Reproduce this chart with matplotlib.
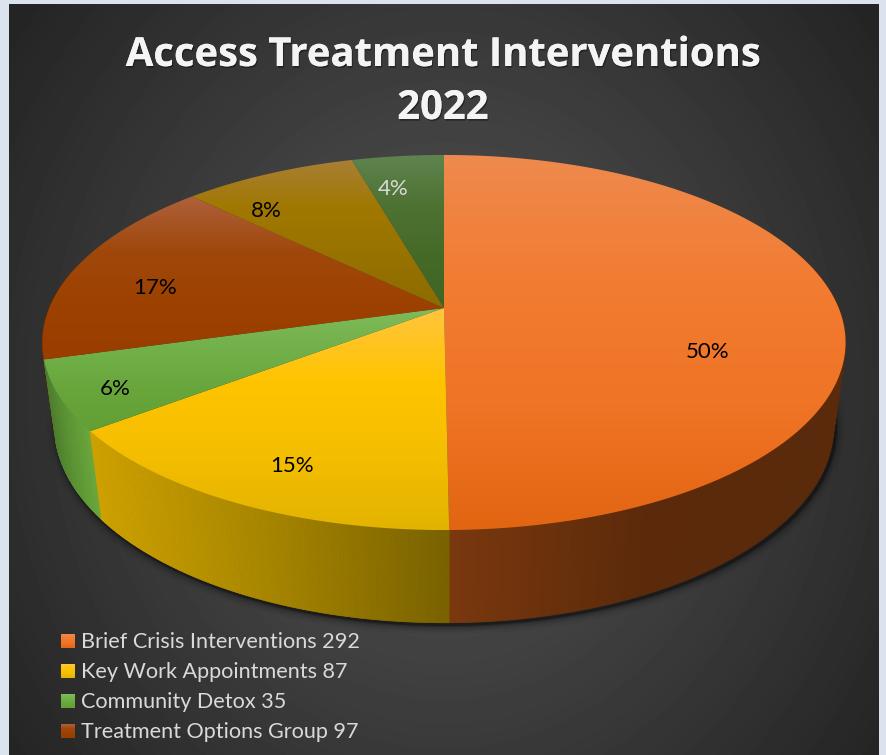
import numpy as np
import matplotlib
matplotlib.use("Agg")
import matplotlib.pyplot as plt
import matplotlib.patheffects as pe
from matplotlib.colors import LinearSegmentedColormap, to_rgb
from matplotlib.patches import Polygon

plt.rcParams["font.family"] = ["Lato", "DejaVu Sans"]

# ─── Data ──────────────────────────────────────────────────────────────────────

title_lines = ["Access Treatment Interventions", "2022"]
values = [292, 87, 35, 97, 49, 26]
legend_names = ["Brief Crisis Interventions", "Key Work Appointments",
                "Community Detox", "Treatment Options Group"]

# ─── Style ─────────────────────────────────────────────────────────────────────

W, H = 886, 755
CX, CY = 444, 308          # pie centre on the canvas
RX, RY = 394.7, 181.2      # radii of the top disc
TILT = 0.184               # perspective strength
DEPTH, SHRINK = 85, 0.03   # offset of the lower disc

face_stops = [
    ["#EE8A4E", "#F27C32", "#EF7425", "#E26512"],
    ["#FFC53E", "#FFC400", "#F4BE00", "#E2B300"],
    ["#80BC5A", "#72B04A", "#68A63C", "#62A036"],
    ["#AE613C", "#A0480C", "#9C4100", "#993E00"],
    ["#A97F36", "#A07800", "#987200", "#8C6B00"],
    ["#5F8450", "#4E7232", "#456A28", "#3F6524"],
]
# wall colour across each slice, left end, middle, right end
wall_stops = [
    ("#7A380E", "#5C2A0A", "#5A2A0B"),
    ("#CFA200", "#A68500", "#7A6200"),
    ("#4B7C2C", "#5C9535", "#6BA83C"),
    ("#6E2E00", "#6E2E00", "#6E2E00"),
    ("#6E5200", "#6E5200", "#6E5200"),
    ("#2E4A1A", "#2E4A1A", "#2E4A1A"),
]
label_xy = [(708, 352), (292, 466), (115, 389), (155, 288), (266, 211), (393, 189)]
label_colors = ["black", "black", "black", "black", "black", "#D9D9D9"]


def top_point(theta):
    u, v = np.sin(theta), np.cos(theta)
    d = 1 + TILT * v
    return CX + RX * u / d, CY - RY * v / d


def bottom_point(theta):
    u, v = np.sin(theta), np.cos(theta)
    d = 1 + TILT * v + SHRINK
    return CX + RX * u / d, CY + (-RY * v + DEPTH) / d


def gradient_fill(ax, poly_xy, stops, zorder):
    """Fill a polygon with a top to bottom gradient."""
    xs, ys = poly_xy[:, 0], poly_xy[:, 1]
    cmap = LinearSegmentedColormap.from_list("g", stops)
    grad = np.linspace(0, 1, 256).reshape(-1, 1)
    im = ax.imshow(grad, cmap=cmap, aspect="auto", interpolation="bilinear",
                   extent=(xs.min(), xs.max(), ys.max(), ys.min()), zorder=zorder)
    clip = Polygon(poly_xy, closed=True, transform=ax.transData, fc="none", ec="none")
    ax.add_patch(clip)
    im.set_clip_path(clip)


fig = plt.figure(figsize=(W / 100, H / 100), dpi=100, facecolor="#DAE3EE")
ax = fig.add_axes([0, 0, 1, 1])
ax.axis("off")

# Panel background
px, py = np.meshgrid(np.arange(9, 879), np.arange(4, 755))
r = np.sqrt(((px - 444) / 435) ** 2 + ((py - 390) / 500) ** 2) / 1.25
grey = (87 - 51 * np.clip(r, 0, 1)) / 255
ax.imshow(grey, cmap="gray", vmin=0, vmax=1, extent=(9, 879, 755, 4),
          aspect="auto", interpolation="bilinear", zorder=0)

# Slice angles, clockwise from twelve o'clock
total = sum(values)
edges = 2 * np.pi * np.concatenate([[0], np.cumsum(values)]) / total

# Soft shadow under the lower rim
ring = np.linspace(np.pi * 0.42, np.pi * 1.6, 240)
rim = np.array([bottom_point(t) for t in ring])
for lw, alpha in [(14, 0.05), (10, 0.08), (7, 0.12), (4, 0.25), (2, 0.45)]:
    ax.plot(rim[:, 0] + 2, rim[:, 1] + 2, color="#0C0C0C", lw=lw, alpha=alpha,
            solid_capstyle="round", zorder=1)

# Side walls as thin strips, collected so the farthest are painted first
strips = []
for i in range(len(values)):
    steps = max(int((edges[i + 1] - edges[i]) / np.radians(0.4)), 2)
    th = np.linspace(edges[i], edges[i + 1], steps + 1)
    mid = (th[:-1] + th[1:]) / 2
    front = np.cos(mid) < 0.25
    if not front.any():
        continue
    xs = np.array([top_point(t)[0] for t in th[:-1]])
    x_lo, x_hi = xs[front].min(), xs[front].max()
    rgb = np.array([to_rgb(c) for c in wall_stops[i]])
    for a, b, m, keep in zip(th[:-1], th[1:], mid, front):
        if not keep:
            continue
        f = (top_point(a)[0] - x_lo) / max(x_hi - x_lo, 1)
        col = [np.interp(f, [0, 0.5, 1], rgb[:, k]) for k in range(3)]
        quad = [top_point(a), top_point(b), bottom_point(b), bottom_point(a)]
        strips.append((np.cos(m), quad, col))
strips.sort(key=lambda s: -s[0])
for _, quad, col in strips:
    ax.add_patch(Polygon(quad, closed=True, fc=col, ec=col, lw=0.6, zorder=2))

# Top faces
for i in range(len(values)):
    th = np.linspace(edges[i], edges[i + 1], 200)
    pts = np.array([(CX, CY)] + [top_point(t) for t in th])
    gradient_fill(ax, pts, face_stops[i], zorder=3)

# Percentage labels
for v, (x, y), c in zip(values, label_xy, label_colors):
    ax.text(x, y, f"{round(100 * v / total)}%", ha="center", va="center",
            fontsize=16, color=c, zorder=5)

# Title
shadow = [pe.withSimplePatchShadow(offset=(0.8, -1.2), shadow_rgbFace="black", alpha=0.4),
          pe.Normal()]
for line, base in zip(title_lines, [66, 119]):
    ax.text(443, base, line, ha="center", va="baseline", fontsize=28.8,
            fontweight="bold", family=["Open Sans", "DejaVu Sans"],
            color="#F4F4F4", path_effects=shadow, zorder=6)

# Legend
for i, name in enumerate(legend_names):
    base = 648 + 30 * i
    box = np.array([(61, base - 14), (75, base - 14), (75, base), (61, base)], float)
    gradient_fill(ax, box, face_stops[i], zorder=5)
    ax.text(81, base, f"{name} {values[i]}", ha="left", va="baseline",
            fontsize=15.6, color="#D9D9D9", zorder=5)

ax.set_xlim(0, W)
ax.set_ylim(H, 0)
fig.savefig("out.png", dpi=100, facecolor=fig.get_facecolor())
